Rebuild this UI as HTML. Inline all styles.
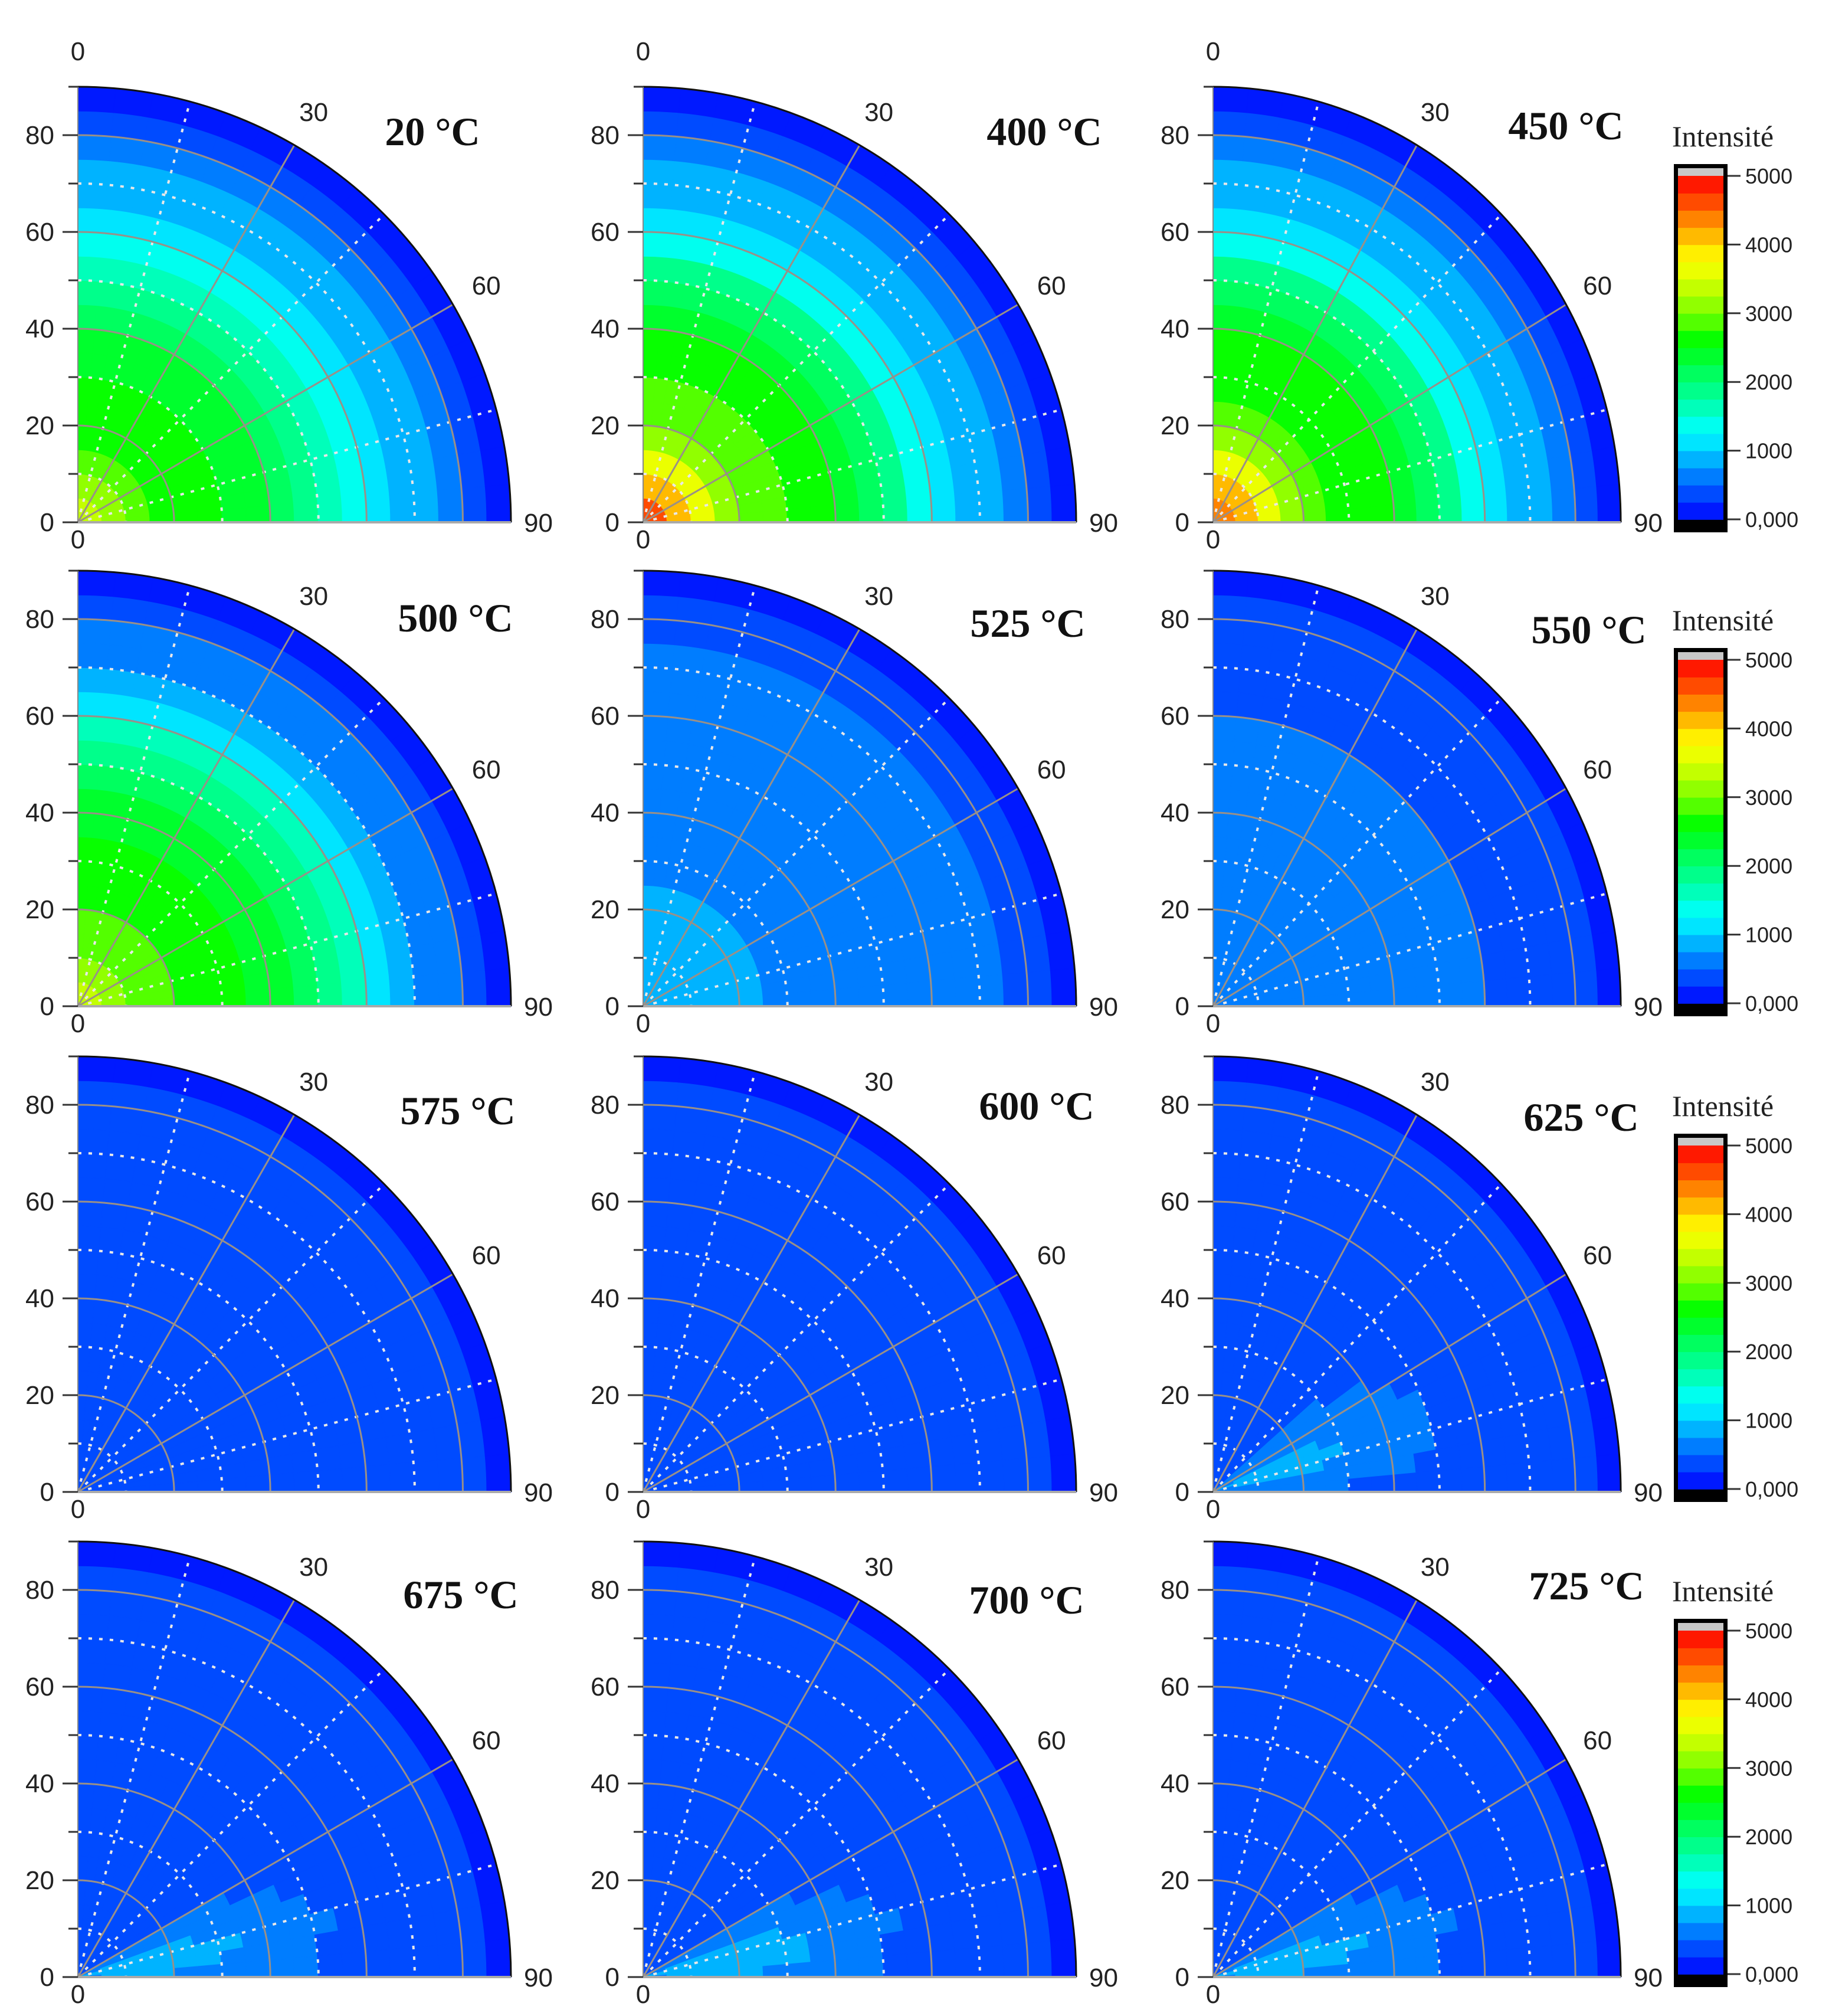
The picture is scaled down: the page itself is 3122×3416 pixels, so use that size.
<!DOCTYPE html>
<html><head><meta charset="utf-8">
<style>
html,body{margin:0;padding:0;background:#fff;}
svg{display:block;}
.tk{font-family:"Liberation Sans",sans-serif;font-size:44px;fill:#222;}
.ttl{font-family:"Liberation Serif",serif;font-size:68px;font-weight:bold;fill:#111;}
.cbl{font-family:"Liberation Sans",sans-serif;font-size:36px;fill:#222;}
.int{font-family:"Liberation Serif",serif;font-size:50px;fill:#222;}
</style></head>
<body>
<svg id="fig" xmlns="http://www.w3.org/2000/svg" width="3122" height="3416" viewBox="0 0 3122 3416"></svg>
<script>
// ---- data ----
const panelTitles = ["20 °C","400 °C","450 °C","500 °C","525 °C","550 °C","575 °C","600 °C","625 °C","675 °C","700 °C","725 °C"];
const radialTicks = [0,20,40,60,80];
const angleLabels = [30,60];
const cbarTicks = [0,1000,2000,3000,4000,5000];
const cbarTickLabels = ["0,000","1000","2000","3000","4000","5000"];
// radial intensity profile, radius bins of 5 (0-5 ... 85-90)
const radial20  = [3300,3000,2800,2700,2650,2550,2450,2300,2150,1950,1650,1350,1150,950,750,550,350,150];
const radial400 = [4600,4200,3700,3200,2900,2750,2650,2550,2350,2100,1750,1400,1150,900,750,550,350,150];
const radial450 = [4400,4000,3500,3100,2850,2700,2600,2500,2300,2050,1750,1400,1150,900,750,550,350,150];
const radial500 = [3300,3100,2900,2750,2650,2600,2550,2450,2350,2200,1950,1500,1150,900,700,550,350,150];
const radial525 = [850,830,800,780,760,740,720,700,680,650,620,580,560,540,520,480,380,220];
const radial550 = [700,680,660,640,620,600,580,560,540,520,500,500,480,470,450,420,340,220];
const radial575 = [480,460,450,450,450,440,440,430,420,400,380,380,400,420,380,340,280,200];
const radial600 = [480,460,450,450,450,440,440,430,420,400,380,380,400,420,380,340,280,200];
const radial625 = [330,320,310,310,300,300,300,300,300,300,320,330,330,340,320,300,260,200];
const radial675 = [280,270,260,260,260,260,260,260,270,280,300,320,330,330,310,290,250,200];
const radial700 = [280,270,260,260,260,260,260,260,270,280,300,320,330,330,310,290,250,200];
const radial725 = [280,270,260,260,260,260,260,260,270,280,300,320,330,330,310,290,250,200];
// wedge enhancement (low elevation region) vs radius
const wedge0   = [0,0,0,0,0,0,0,0,0,0,0,0,0,0,0,0,0,0];
const wedge625 = [450,500,520,520,500,470,430,380,320,250,170,100,40,0,0,0,0,0];
const wedge675 = [500,580,600,600,570,540,500,440,370,290,200,110,50,0,0,0,0,0];
const wedge700 = [520,620,650,640,610,570,520,460,390,300,210,120,50,0,0,0,0,0];
const wedge725 = [500,580,600,600,570,540,500,440,370,290,200,110,50,0,0,0,0,0];
// angular weight (%) for wedge, angle bins of 5 deg from vertical (0) to horizontal (90)
const angW625 = [0,0,0,0,0,0,0,5,15,30,45,60,75,90,100,90,70,45];
const angWlow = [0,0,0,0,0,0,0,0,0,5,15,30,50,70,90,100,95,85];
const panelRadial = [radial20,radial400,radial450,radial500,radial525,radial550,radial575,radial600,radial625,radial675,radial700,radial725];
const panelWedge  = [wedge0,wedge0,wedge0,wedge0,wedge0,wedge0,wedge0,wedge0,wedge625,wedge675,wedge700,wedge725];
const panelAngW   = [angWlow,angWlow,angWlow,angWlow,angWlow,angWlow,angWlow,angWlow,angW625,angWlow,angWlow,angWlow];

// ---- layout ----
const colX = [132,1090,2056];
const colRx = [734,734,691];
const rowY = [885,1705,2528,3350];
const RY = 738;
const titlePos = [[733,222],[1770,222],[2654,212],[772,1046],[1742,1055],[2693,1066],[776,1881],[1757,1873],[2680,1892],[781,2701],[1740,2710],[2689,2686]];

const svg = document.getElementById('fig');
const NS = "http://www.w3.org/2000/svg";
function mk(tag, attrs, parent){const e=document.createElementNS(NS,tag);for(const k in attrs)e.setAttribute(k,attrs[k]);(parent||svg).appendChild(e);return e;}

const cstops=[[0,[0,0,255]],[400,[0,80,255]],[800,[0,160,255]],[1000,[0,210,255]],[1300,[0,255,255]],[1700,[0,255,170]],[2100,[0,255,100]],[2600,[0,255,0]],[3000,[120,255,0]],[3500,[220,255,0]],[3800,[255,255,0]],[4200,[255,170,0]],[4600,[255,80,0]],[5000,[255,0,0]]];
function cmap(v){
  v=Math.max(0,Math.min(4999,v)); v=Math.floor(v/250)*250+125;
  for(let i=1;i<cstops.length;i++){ if(v<=cstops[i][0]){const a=cstops[i-1],b=cstops[i];const t=(v-a[0])/(b[0]-a[0]);
    return 'rgb('+a[1].map((c,k)=>Math.round(c+(b[1][k]-c)*t)).join(',')+')';}}
  return 'rgb(255,0,0)';
}

panelTitles.forEach((title,p)=>{
  const ox=colX[p%3], oy=rowY[Math.floor(p/3)], rx=colRx[p%3];
  const g=mk('g',{});
  
  
  const X=(r,a)=>ox+rx*(r/90)*Math.sin(a*Math.PI/180);
  const Y=(r,a)=>oy-RY*(r/90)*Math.cos(a*Math.PI/180);
  const rad=panelRadial[p], wed=panelWedge[p], aw=panelAngW[p];
  const hm=mk('g',{},g);
  
  
  for(let i=0;i<rad.length;i++){
    const r0=i*5,r1=(i+1)*5;
    for(let j=0;j<aw.length;j++){
      const a0=j*5,a1=(j+1)*5;
      const v=rad[i]+wed[i]*aw[j]/100;
      const ex0=rx*r0/90,ey0=RY*r0/90,ex1=rx*r1/90,ey1=RY*r1/90;
      let d='M'+X(r1,a0)+' '+Y(r1,a0)+' A'+ex1+' '+ey1+' 0 0 1 '+X(r1,a1)+' '+Y(r1,a1)+' L'+X(r0,a1)+' '+Y(r0,a1);
      if(r0>0) d+=' A'+ex0+' '+ey0+' 0 0 0 '+X(r0,a0)+' '+Y(r0,a0);
      d+='Z';
      const c=cmap(v);
      const cell=mk('path',{d:d,fill:c,stroke:c,'stroke-width':1.5},hm);
      
      
    }
  }
  [10,30,50,70].forEach(r=>{
    mk('path',{d:'M'+X(r,0)+' '+Y(r,0)+' A'+(rx*r/90)+' '+(RY*r/90)+' 0 0 1 '+X(r,90)+' '+Y(r,90),fill:'none',stroke:'#e8e8e8','stroke-width':4,'stroke-dasharray':'6 12'},g);
  });
  [15,45,75].forEach(a=>{
    mk('line',{x1:ox,y1:oy,x2:X(90,a),y2:Y(90,a),stroke:'#e8e8e8','stroke-width':4,'stroke-dasharray':'6 12'},g);
  });
  [20,40,60,80].forEach(r=>{
    mk('path',{d:'M'+X(r,0)+' '+Y(r,0)+' A'+(rx*r/90)+' '+(RY*r/90)+' 0 0 1 '+X(r,90)+' '+Y(r,90),fill:'none',stroke:'#999088','stroke-width':3},g);
  });
  [30,60].forEach(a=>{
    mk('line',{x1:ox,y1:oy,x2:X(90,a),y2:Y(90,a),stroke:'#999088','stroke-width':3},g);
  });
  mk('path',{d:'M'+X(90,0)+' '+Y(90,0)+' A'+rx+' '+RY+' 0 0 1 '+X(90,90)+' '+Y(90,90),fill:'none',stroke:'#111','stroke-width':3},g);
  mk('line',{x1:ox,y1:oy,x2:ox+rx,y2:oy,stroke:'#aaa','stroke-width':4},g);
  mk('line',{x1:ox,y1:oy,x2:ox,y2:oy-RY,stroke:'#888','stroke-width':2},g);
  for(let t=0;t<=90;t+=10){
    const y=oy-RY*t/90;
    mk('line',{x1:ox-(t%20===0?26:16),y1:y,x2:ox,y2:y,stroke:'#333','stroke-width':3},g);
  }
  radialTicks.forEach(t=>{
    const tx=mk('text',{x:ox-40,y:oy-RY*t/90+15,'text-anchor':'end',class:'tk'},g);
    tx.textContent=t;
    
    
  });
  const z1=mk('text',{x:ox,y:oy+44,'text-anchor':'middle',class:'tk'},g); z1.textContent='0';
  
  
  if(p<3){const z2=mk('text',{x:ox,y:oy-RY-45,'text-anchor':'middle',class:'tk'},g); z2.textContent='0';
    
    }
  const n90=mk('text',{x:ox+rx+22,y:oy+16,'text-anchor':'start',class:'tk'},g); n90.textContent='90';
  
  
  angleLabels.forEach(a=>{
    const t=mk('text',{x:X(98,a),y:Y(98,a)+16,'text-anchor':'middle',class:'tk'},g); t.textContent=a;
    
    
  });
  const tp=titlePos[p];
  const tt=mk('text',{x:tp[0],y:tp[1]+24,'text-anchor':'middle',class:'ttl'},g); tt.textContent=title;
  
  
});

rowY.forEach((oy,ri)=>{
  const g=mk('g',{});
  
  
  const top=oy-607, x0=2837, w=91;
  const y5=top+20, y0=top+602;
  const lab=mk('text',{x:2920,y:top-30,'text-anchor':'middle',class:'int'},g); lab.textContent='Intensité';
  
  
  mk('rect',{x:x0,y:top,width:w,height:624,fill:'#000'},g);
  mk('rect',{x:x0+7,y:top+7,width:w-14,height:y5-top-7,fill:'#c8c8c8'},g);
  for(let v=0;v<5000;v+=250){
    const ya=y0-(v+250)/5000*(y0-y5), yb=y0-v/5000*(y0-y5);
    mk('rect',{x:x0+7,y:ya,width:w-14,height:yb-ya+0.8,fill:cmap(v+1)},g);
  }
  cbarTicks.forEach((v,i)=>{
    const y=y0-v/5000*(y0-y5);
    mk('line',{x1:x0+w,y1:y,x2:x0+w+22,y2:y,stroke:'#333','stroke-width':3},g);
    const t=mk('text',{x:x0+w+30,y:y+13,class:'cbl'},g); t.textContent=cbarTickLabels[i];
    
    
  });
});
</script>
</body></html>
